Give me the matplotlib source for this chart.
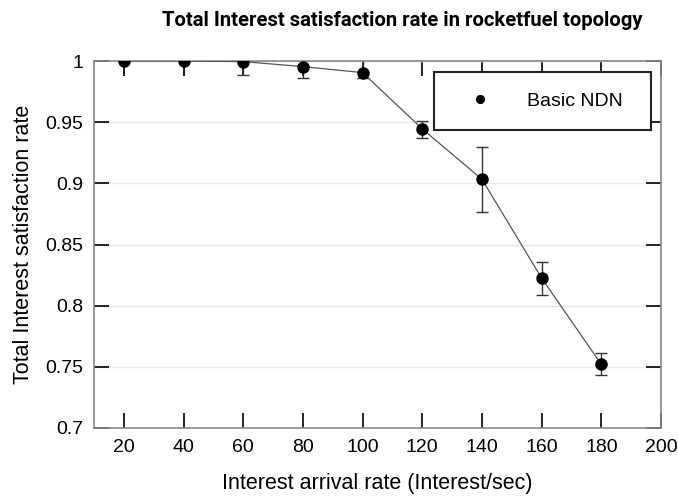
import matplotlib
matplotlib.use("Agg")
import matplotlib.pyplot as plt
from matplotlib.patches import Rectangle

rates = [20, 40, 60, 80, 100, 120, 140, 160, 180]
satisfaction = [1.0, 1.0, 0.9995, 0.9954, 0.9905, 0.9445, 0.9033, 0.8225, 0.752]
err_low = [0.012, 0.012, 0.011, 0.0094, 0.004, 0.0074, 0.0266, 0.0138, 0.0087]
err_high = [0.012, 0.012, 0.011, 0.0094, 0.012, 0.0067, 0.0265, 0.013, 0.009]
xticks = [20, 40, 60, 80, 100, 120, 140, 160, 180, 200]
yticks = [0.7, 0.75, 0.8, 0.85, 0.9, 0.95, 1.0]
ytick_labels = ["0.7", "0.75", "0.8", "0.85", "0.9", "0.95", "1"]

plt.rcParams['font.family'] = ['Liberation Sans', 'DejaVu Sans']

W, H = 678, 499
fig = plt.figure(figsize=(W/100, H/100), dpi=100)
L, R, T, B = 94, 661, 61, 428
ax = fig.add_axes([L/W, 1-B/H, (R-L)/W, (B-T)/H])

# first two points: error bars without caps
ax.errorbar(rates[:2], satisfaction[:2], yerr=[err_low[:2], err_high[:2]], fmt='none',
            ecolor='#222222', elinewidth=1.3, capsize=0, zorder=2)
ax.errorbar(rates[2:], satisfaction[2:], yerr=[err_low[2:], err_high[2:]], fmt='none',
            ecolor='#333333', elinewidth=1.0, capsize=4.5, capthick=1.0, zorder=2)
ax.plot(rates, satisfaction, '-', color='#555555', linewidth=0.9, zorder=3)
ax.plot(rates, satisfaction, 'o', color='black', markersize=8, zorder=4,
        linestyle='none', label='Basic NDN')

ax.set_xlim(10, 200)
ax.set_ylim(0.7, 1.0)
ax.set_xticks(xticks)
ax.set_yticks(yticks)
ax.set_yticklabels(ytick_labels)
ax.yaxis.grid(True, color='#e6e6e6', linewidth=1.0)
ax.set_axisbelow(True)

ax.tick_params(direction='in', length=11, width=1.2, color='black',
               top=True, right=True, labelsize=14, pad=8)
for s in ax.spines.values():
    s.set_color('#888888')
    s.set_linewidth(1.2)

ax.set_xlabel('Interest arrival rate (Interest/sec)', fontsize=15.5, labelpad=12)
ax.set_ylabel('Total Interest satisfaction rate', fontsize=15.5, labelpad=8)
fig.text(402/W, 1-20/H, 'Total Interest satisfaction rate in rocketfuel topology',
         ha='center', va='center', fontsize=14.6, fontweight='bold',
         family=['Roboto', 'DejaVu Sans'])

# legend: frameless legend + drawn box
lx0, lx1, ly0, ly1 = 434, 651, 72, 130
leg = ax.legend(loc='center left',
                bbox_to_anchor=((lx0 + 25 - L)/(R-L), 1-((ly0+ly1)/2 - T)/(B-T)),
                frameon=False, fontsize=14, markerscale=0.7, borderpad=0,
                handlelength=2.2, handletextpad=1.3, borderaxespad=0)
leg.set_zorder(6)
box = Rectangle(((lx0-L)/(R-L), 1-(ly1-T)/(B-T)), (lx1-lx0)/(R-L), (ly1-ly0)/(B-T),
                transform=ax.transAxes, facecolor='white', edgecolor='#222222',
                linewidth=1.5, zorder=5)
ax.add_patch(box)

fig.savefig('out.png', dpi=100)
